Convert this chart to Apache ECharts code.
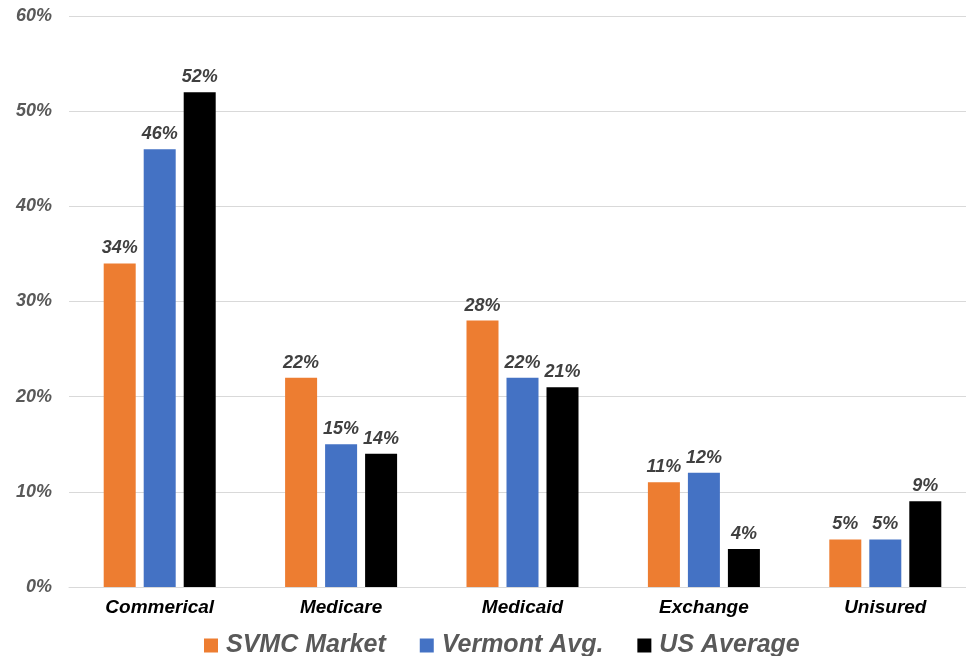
<!DOCTYPE html>
<html>
<head>
<meta charset="utf-8">
<script src="https://cdn.jsdelivr.net/npm/echarts@6/dist/echarts.min.js"></script>
<style>
  html, body { margin: 0; padding: 0; background: #fff; }
  #chart { width: 966px; height: 656px; }
</style>
</head>
<body>
<div id="chart"></div>
<script>
var categories = ['Commerical', 'Medicare', 'Medicaid', 'Exchange', 'Unisured'];
var svmcMarket = [34, 22, 28, 11, 5];
var vermontAvg = [46, 15, 22, 12, 5];
var usAverage = [52, 14, 21, 4, 9];

var font = 'Liberation Sans, Arial, sans-serif';
var labelStyle = {
    show: true,
    position: 'top',
    distance: 6,
    formatter: '{c}%',
    color: '#404040',
    fontFamily: font,
    fontSize: 18,
    fontWeight: 'bold',
    fontStyle: 'italic'
};

function barSeries(name, data, color) {
    return {
        name: name,
        type: 'bar',
        data: data,
        barWidth: 32,
        barGap: '25%',
        itemStyle: { color: color },
        label: labelStyle
    };
}

var myChart = echarts.init(document.getElementById('chart'));
myChart.setOption({
    animation: false,
    legend: {
        top: 628,
        left: 199,
        itemWidth: 14,
        itemHeight: 14,
        itemGap: 34,
        icon: 'rect',
        textStyle: {
            color: '#595959',
            fontFamily: font,
            fontSize: 25,
            fontWeight: 'bold',
            fontStyle: 'italic',
            padding: [0, 0, 0, 3]
        },
        data: ['SVMC Market', 'Vermont Avg.', 'US Average']
    },
    grid: {
        left: 69,
        top: 16,
        width: 907,
        bottom: 69,
        outerBoundsMode: 'none'
    },
    xAxis: {
        type: 'category',
        data: categories,
        axisLine: { lineStyle: { color: '#d9d9d9' } },
        axisTick: { show: false },
        axisLabel: {
            color: '#000',
            fontFamily: font,
            fontSize: 19,
            fontWeight: 'bold',
            fontStyle: 'italic',
            margin: 11
        }
    },
    yAxis: {
        type: 'value',
        min: 0,
        max: 60,
        interval: 10,
        axisLine: { show: false },
        axisTick: { show: false },
        splitLine: { lineStyle: { color: '#d9d9d9' } },
        axisLabel: {
            formatter: '{value}%',
            color: '#595959',
            fontFamily: font,
            fontSize: 18,
            fontWeight: 'bold',
            fontStyle: 'italic',
            margin: 17
        }
    },
    series: [
        barSeries('SVMC Market', svmcMarket, '#ED7D31'),
        barSeries('Vermont Avg.', vermontAvg, '#4472C4'),
        barSeries('US Average', usAverage, '#000000')
    ]
});
</script>
</body>
</html>
